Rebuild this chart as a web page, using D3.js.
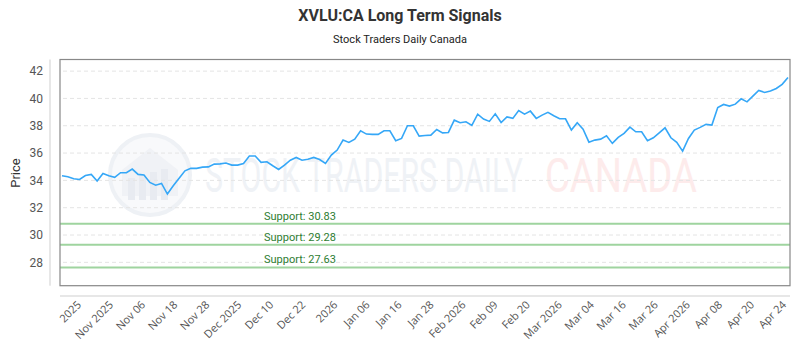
<!DOCTYPE html>
<html lang="en">
<head>
	<meta charset="UTF-8">
	<title>XVLU:CA Long Term Signals</title>
	<script type="text/javascript" src="https://cdn.jsdelivr.net/npm/d3@7/dist/d3.min.js"></script>
	<style>
		body { margin: 0; background: #fff; }
		text { font-family: Roboto, "Open Sans", sans-serif; }
		.grid line { stroke: #e4e4e4; stroke-dasharray: 4 3; }
		.price-line { fill: none; stroke: #35a7f7; stroke-width: 1.6px; }
	</style>
</head>
<body>
<script type="text/javascript">
	window.onload = function () {

		var prices = [
			34.34, 34.27, 34.12, 34.07, 34.36, 34.44, 33.95, 34.51, 34.34, 34.22,
			34.56, 34.56, 34.83, 34.44, 34.39, 33.85, 33.65, 33.78, 33.00, 33.60,
			34.15, 34.70, 34.88, 34.88, 34.97, 34.99, 35.19, 35.21, 35.27, 35.12,
			35.12, 35.24, 35.78, 35.78, 35.32, 35.36, 35.07, 34.80, 35.12, 35.48,
			35.68, 35.48, 35.55, 35.68, 35.53, 35.24, 35.85, 36.22, 36.95, 36.78,
			37.02, 37.63, 37.39, 37.37, 37.37, 37.63, 37.63, 36.90, 37.07, 38.00,
			38.00, 37.24, 37.29, 37.31, 37.73, 37.48, 37.51, 38.41, 38.22, 38.29,
			38.02, 38.85, 38.49, 38.32, 38.87, 38.24, 38.65, 38.54, 39.12, 38.85,
			39.07, 38.54, 38.78, 38.98, 38.73, 38.51, 38.51, 37.68, 38.22, 37.75,
			36.80, 36.95, 37.02, 37.26, 36.71, 37.15, 37.44, 37.90, 37.56, 37.56,
			36.90, 37.12, 37.48, 37.85, 37.12, 36.78, 36.14, 37.07, 37.68, 37.88,
			38.10, 38.05, 39.34, 39.56, 39.44, 39.58, 39.97, 39.75, 40.17, 40.59,
			40.44, 40.54, 40.73, 41.03, 41.54
		];

		var tickLabels = [
			'2025', 'Nov 2025', 'Nov 06', 'Nov 18', 'Nov 28', 'Dec 2025', 'Dec 10', 'Dec 22',
			'2026', 'Jan 06', 'Jan 16', 'Jan 28', 'Feb 2026', 'Feb 09', 'Feb 20', 'Mar 2026',
			'Mar 04', 'Mar 16', 'Mar 26', 'Apr 2026', 'Apr 08', 'Apr 20', 'Apr 24'
		];

		var supports = [30.83, 29.28, 27.63];
		var yTicks = [28, 30, 32, 34, 36, 38, 40, 42];

		var width = 800, height = 350;
		var plot = { left: 60, right: 790, top: 59.5, bottom: 285.7 };

		var svg = d3.select('body')
					.append('svg')
						.attr('width', width)
						.attr('height', height);

		var x = d3.scaleLinear()
					.domain([0, prices.length - 1])
					.range([62, 788]);

		var xLab = d3.scalePoint()
					.domain(tickLabels)
					.range([76, 781]);

		var y = d3.scaleLinear()
					.domain([26.29, 42.85])
					.range([plot.bottom, plot.top]);

		// title
		svg.append('text')
			.attr('x', 400).attr('y', 21)
			.attr('text-anchor', 'middle')
			.style('font-size', '16px').style('font-weight', 'bold').style('fill', '#333')
			.text('XVLU:CA Long Term Signals');

		svg.append('text')
			.attr('x', 400).attr('y', 43)
			.attr('text-anchor', 'middle')
			.style('font-size', '11px').style('fill', '#222')
			.text('Stock Traders Daily Canada');

		// watermark (squeezed horizontally to look condensed)
		var wm = svg.append('g').attr('class', 'watermark');
		wm.append('circle')
			.attr('cx', 150).attr('cy', 175).attr('r', 40)
			.style('fill', '#f8f9fb').style('stroke', '#eef1f5').style('stroke-width', 4);
		wm.append('path')
			.attr('d', 'M122,170 L150,148 L178,170 L178,196 L122,196 Z')
			.style('fill', '#f0f2f6');
		[128, 139, 150, 161].forEach(function (bx, i) {
			wm.append('rect')
				.attr('x', bx).attr('y', 178 - i * 3).attr('width', 7).attr('height', 22 + i * 3)
				.style('fill', '#e8ebf1');
		});

		function squeezed(txt, x0, w, colour) {
			var t = wm.append('text')
				.style('font-size', '48px').style('font-weight', '400').style('fill', colour)
				.text(txt);
			var natural = t.node().getComputedTextLength();
			t.attr('transform', 'translate(' + x0 + ',192) scale(' + (w / natural) + ',1)');
		}
		squeezed('STOCK TRADERS DAILY', 205, 318, '#eff2f6');
		squeezed('CANADA', 545, 152, '#fdebeb');

		// grid
		svg.append('g')
			.attr('class', 'grid')
			.selectAll('line')
			.data(yTicks)
			.enter().append('line')
			.attr('x1', 63).attr('x2', 783)
			.attr('y1', function (d) { return y(d); })
			.attr('y2', function (d) { return y(d); });

		// side axis lines
		svg.append('line')
			.attr('x1', 50).attr('x2', 50).attr('y1', plot.top).attr('y2', plot.bottom)
			.style('stroke', '#cfcfcf');
		svg.append('line')
			.attr('x1', plot.left).attr('x2', plot.right).attr('y1', 296).attr('y2', 296)
			.style('stroke', '#cfcfcf');

		// y axis
		var yAxis = svg.append('g')
			.attr('transform', 'translate(47,0)')
			.call(d3.axisLeft(y).tickValues(yTicks).tickSize(0).tickPadding(4));
		yAxis.select('.domain').remove();
		yAxis.selectAll('text')
			.style('font-size', '12px').style('fill', '#555').style('font-family', 'Roboto, sans-serif');

		svg.append('text')
			.attr('transform', 'translate(20,173) rotate(-90)')
			.attr('text-anchor', 'middle')
			.style('font-size', '13px').style('fill', '#333')
			.text('Price');

		// x axis
		var xAxis = svg.append('g')
			.attr('transform', 'translate(0,300)')
			.call(d3.axisBottom(xLab).tickSize(0).tickPadding(0));
		xAxis.select('.domain').remove();
		xAxis.selectAll('text')
			.attr('dy', '0.7em')
			.attr('text-anchor', 'end')
			.attr('transform', 'rotate(-45)')
			.style('font-size', '11px').style('fill', '#555').style('font-family', '"Open Sans", sans-serif');

		// support lines
		var sup = svg.append('g').selectAll('g')
			.data(supports)
			.enter().append('g');
		sup.append('line')
			.attr('x1', plot.left).attr('x2', plot.right)
			.attr('y1', function (d) { return y(d); })
			.attr('y2', function (d) { return y(d); })
			.style('stroke', '#9fd49f').style('stroke-width', 2);
		sup.append('text')
			.attr('x', 264)
			.attr('y', function (d) { return y(d) - 4; })
			.style('font-size', '11px').style('fill', '#2e7d32')
			.text(function (d) { return 'Support: ' + d.toFixed(2); });

		// price line
		var line = d3.line()
			.x(function (d, i) { return x(i); })
			.y(function (d) { return y(d); });

		svg.append('path')
			.datum(prices)
			.attr('class', 'price-line')
			.attr('d', line);

		// plot frame
		svg.append('rect')
			.attr('x', plot.left).attr('y', plot.top)
			.attr('width', plot.right - plot.left).attr('height', plot.bottom - plot.top)
			.style('fill', 'none').style('stroke', '#888').style('stroke-width', 1.2);
	};
</script>
</body>
</html>
